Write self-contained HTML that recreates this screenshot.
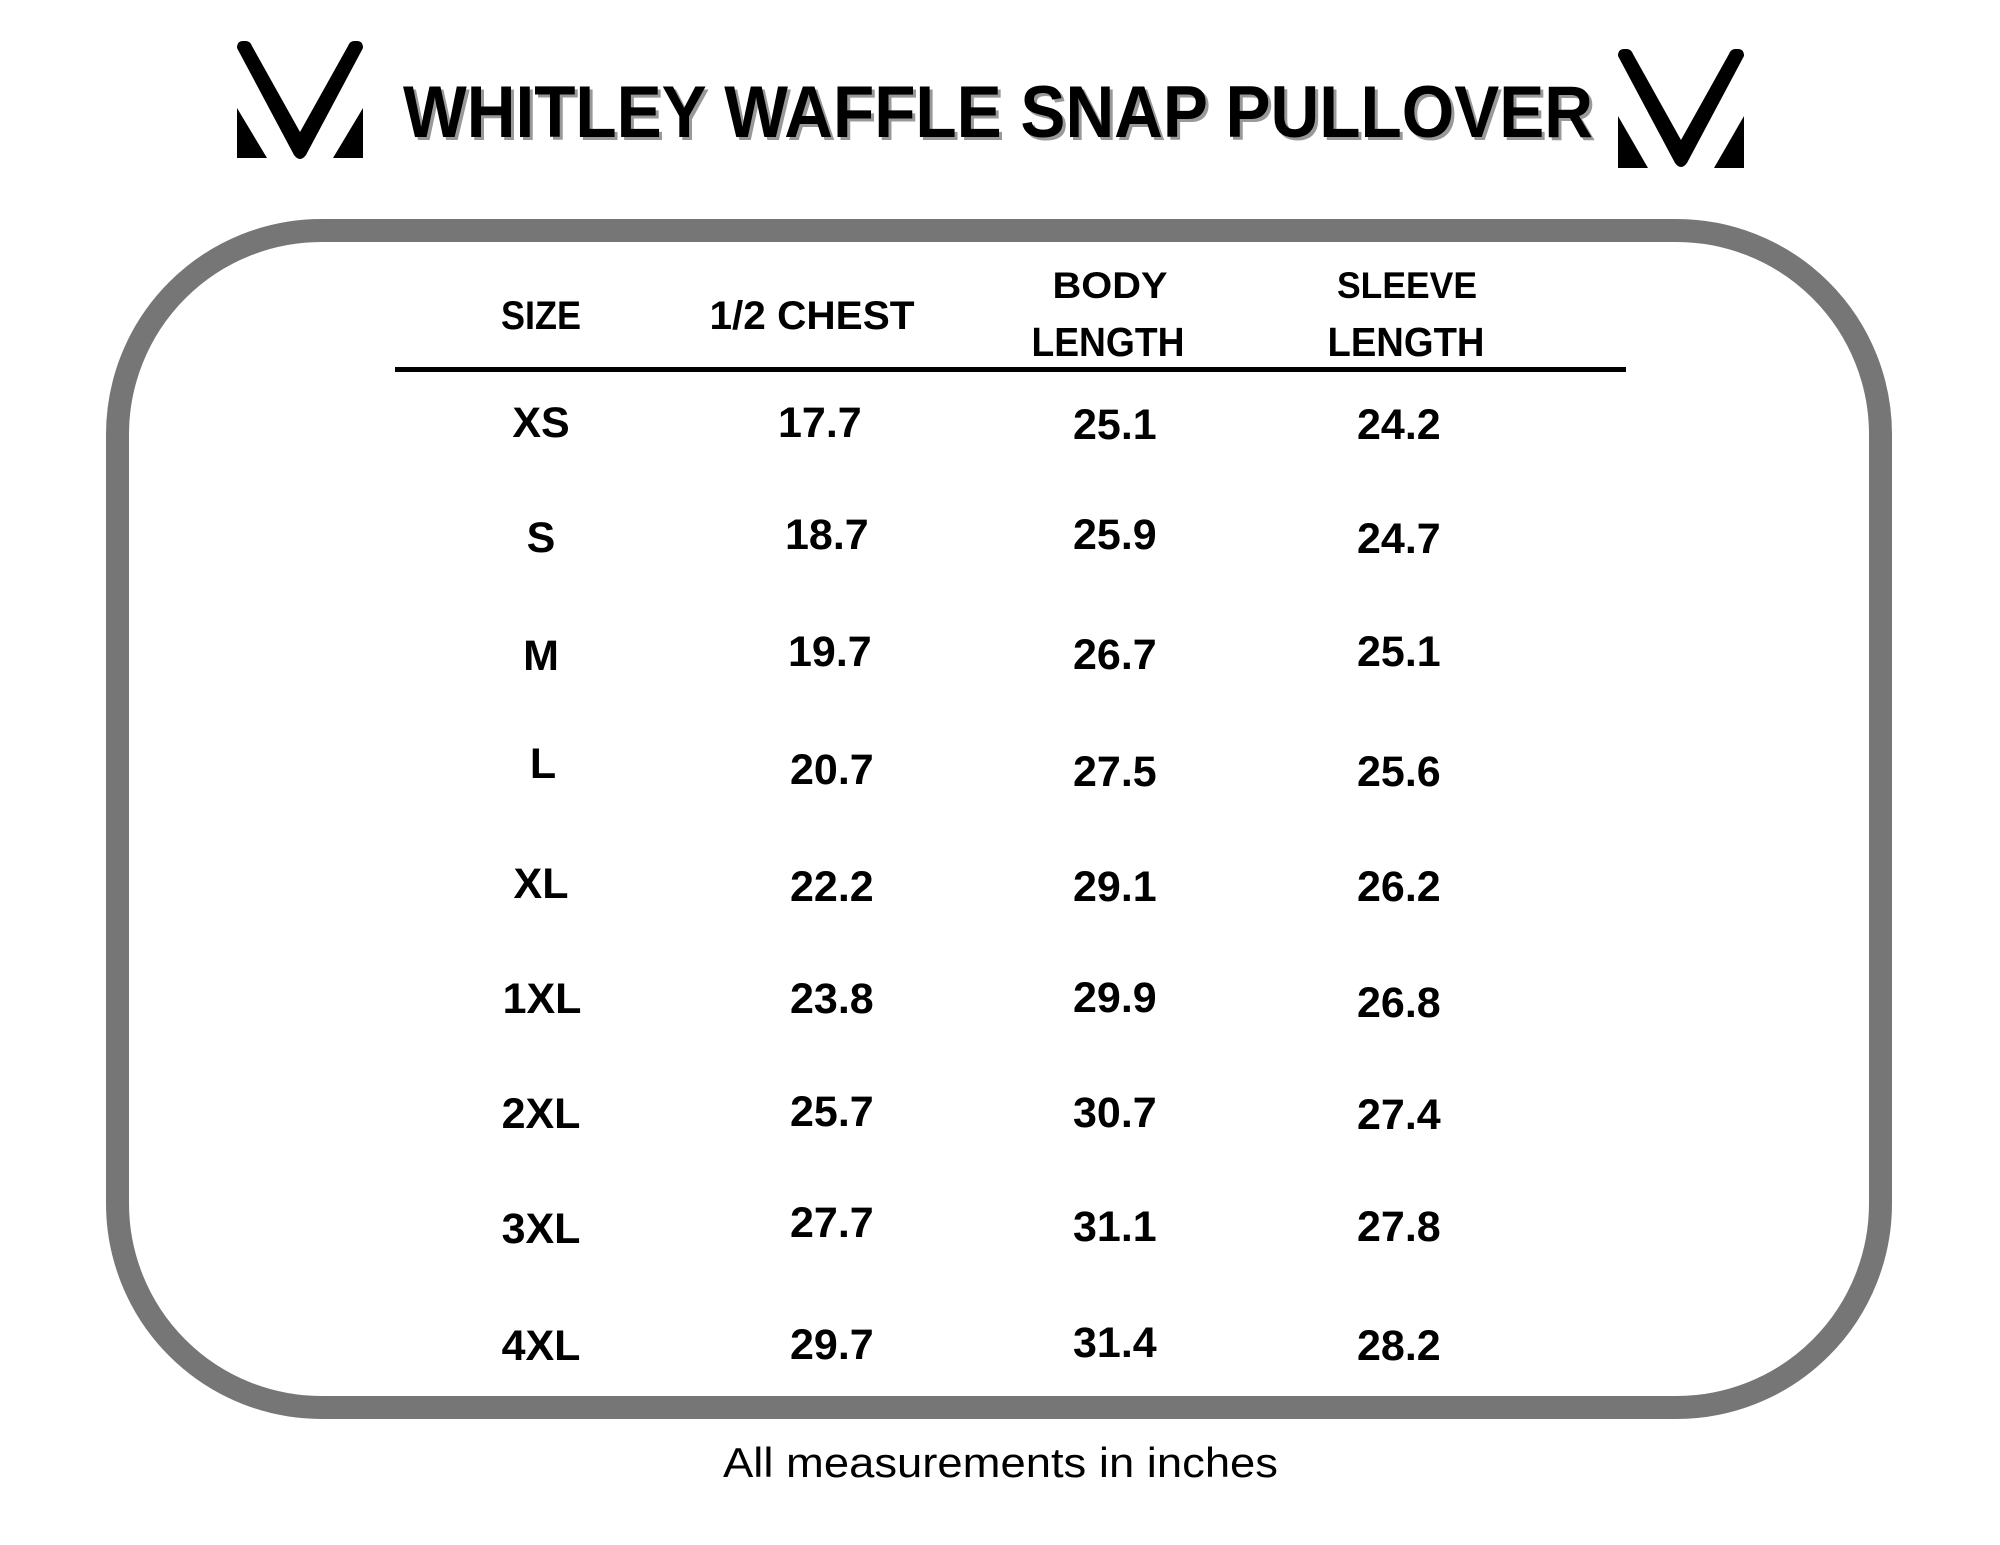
<!DOCTYPE html>
<html>
<head>
<meta charset="utf-8">
<style>
  html,body{margin:0;padding:0;background:#fff;}
  svg{display:block;}
  .t{font-family:"Liberation Sans",sans-serif;}
</style>
</head>
<body>
<svg width="2000" height="1545" viewBox="0 0 2000 1545" xmlns="http://www.w3.org/2000/svg">
  <rect x="0" y="0" width="2000" height="1545" fill="#ffffff"/>

  <!-- Left logo -->
  <g id="logoL" fill="#000">
    <path d="M237,48 Q237,41 243,41 L246,41 Q250,41 252,46 L300,132 L348,46 Q350,41 354,41 L357,41 Q363,41 363,48 L306,155 Q300,163 294,155 Z"/>
    <path d="M237,108 L237,158 L267,158 Z"/>
    <path d="M363,108 L363,158 L333,158 Z"/>
  </g>
  <!-- Right logo -->
  <g fill="#000" transform="translate(1381,8)">
    <path d="M237,48 Q237,41 243,41 L246,41 Q250,41 252,46 L300,132 L348,46 Q350,41 354,41 L357,41 Q363,41 363,48 L306,155 Q300,163 294,155 Z"/>
    <path d="M237,108 L237,160 L267,160 Z"/>
    <path d="M363,108 L363,160 L333,160 Z"/>
  </g>

  <!-- Title -->
  <text class="t" x="406" y="140" font-size="73" font-weight="bold" fill="#999" textLength="1190" lengthAdjust="spacingAndGlyphs">WHITLEY WAFFLE SNAP PULLOVER</text>
  <text class="t" x="403" y="137" font-size="73" font-weight="bold" fill="#000" textLength="1190" lengthAdjust="spacingAndGlyphs">WHITLEY WAFFLE SNAP PULLOVER</text>

  <!-- Rounded box -->
  <rect x="117.5" y="230.5" width="1763" height="1177" rx="204" ry="204" fill="none" stroke="#767676" stroke-width="23"/>

  <!-- Header -->
  <g class="t" font-weight="bold" fill="#000" text-anchor="middle">
    <text x="541" y="329" font-size="40" textLength="80" lengthAdjust="spacingAndGlyphs">SIZE</text>
    <text x="812" y="329" font-size="40" textLength="205" lengthAdjust="spacingAndGlyphs">1/2 CHEST</text>
    <text x="1110" y="298" font-size="37" textLength="115" lengthAdjust="spacingAndGlyphs">BODY</text>
    <text x="1108" y="356" font-size="41" textLength="153" lengthAdjust="spacingAndGlyphs">LENGTH</text>
    <text x="1407" y="298" font-size="37" textLength="140" lengthAdjust="spacingAndGlyphs">SLEEVE</text>
    <text x="1406" y="356" font-size="41" textLength="157" lengthAdjust="spacingAndGlyphs">LENGTH</text>
  </g>
  <rect x="395" y="367" width="1231" height="5" fill="#000"/>

  <!-- Size column -->
  <g class="t" font-weight="bold" font-size="43" fill="#000" text-anchor="middle">
    <text x="541" y="437">XS</text>
    <text x="541" y="552">S</text>
    <text x="541" y="670">M</text>
    <text x="543" y="778">L</text>
    <text x="541" y="898">XL</text>
    <text x="542" y="1013">1XL</text>
    <text x="541" y="1128">2XL</text>
    <text x="541" y="1243">3XL</text>
    <text x="541" y="1360">4XL</text>
  </g>

  <!-- Chest column -->
  <g class="t" font-weight="bold" font-size="43" fill="#000">
    <text x="778" y="437">17.7</text>
    <text x="785" y="549">18.7</text>
    <text x="788" y="666">19.7</text>
    <text x="790" y="784">20.7</text>
    <text x="790" y="901">22.2</text>
    <text x="790" y="1013">23.8</text>
    <text x="790" y="1126">25.7</text>
    <text x="790" y="1237">27.7</text>
    <text x="790" y="1359">29.7</text>
  </g>

  <!-- Body length column -->
  <g class="t" font-weight="bold" font-size="43" fill="#000">
    <text x="1073" y="439">25.1</text>
    <text x="1073" y="549">25.9</text>
    <text x="1073" y="669">26.7</text>
    <text x="1073" y="786">27.5</text>
    <text x="1073" y="901">29.1</text>
    <text x="1073" y="1012">29.9</text>
    <text x="1073" y="1127">30.7</text>
    <text x="1073" y="1241">31.1</text>
    <text x="1073" y="1357">31.4</text>
  </g>

  <!-- Sleeve length column -->
  <g class="t" font-weight="bold" font-size="43" fill="#000">
    <text x="1357" y="439">24.2</text>
    <text x="1357" y="553">24.7</text>
    <text x="1357" y="666">25.1</text>
    <text x="1357" y="786">25.6</text>
    <text x="1357" y="901">26.2</text>
    <text x="1357" y="1017">26.8</text>
    <text x="1357" y="1129">27.4</text>
    <text x="1357" y="1241">27.8</text>
    <text x="1357" y="1360">28.2</text>
  </g>

  <!-- Footer -->
  <text class="t" x="723" y="1477" font-size="42" fill="#000" textLength="555" lengthAdjust="spacingAndGlyphs">All measurements in inches</text>
</svg>
</body>
</html>
